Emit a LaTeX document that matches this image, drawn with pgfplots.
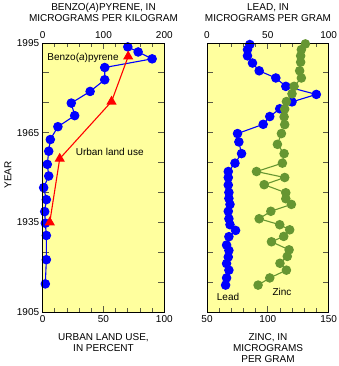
\documentclass[border=0pt]{standalone}
\usepackage{pgfplots}
\pgfplotsset{compat=1.18}
\usepackage{fontspec}
\setmainfont{Liberation Sans}
\definecolor{bgyellow}{RGB}{255,255,158}
\definecolor{zincgreen}{RGB}{102,150,50}
\definecolor{tickgray}{RGB}{90,90,70}
\pgfplotsset{
  common/.style={
    scale only axis, width=121.6pt, height=269pt,
    ymin=1905, ymax=1995,
    clip=false,
    /pgf/number format/assume math mode=true,
    tick label style={font=\fontsize{10}{12}\selectfont},
    axis line style={line width=0.9pt, black},
    major tick length=6pt, minor tick length=4pt,
    every tick/.style={tickgray, line width=0.9pt},
    tick align=inside,
  },
  yearticks/.style={
    ytick={1905,1915,1925,1935,1945,1955,1965,1975,1985,1995},
    yticklabels={1905,,,1935,,,1965,,,1995},
    ytick pos=both,
  },
}
\begin{document}
\begin{tikzpicture}[x=1pt,y=1pt]
\useasboundingbox (0,0) rectangle (338,366);
% ---------------- Left panel: benzo(a)pyrene (top axis)
\begin{axis}[common, yearticks, at={(42.7pt,54pt)}, anchor=south west,
  axis background/.style={fill=bgyellow},
  xmin=0, xmax=200, xtick={0,100,200}, minor x tick num=4,
  xtick pos=right, xticklabel pos=right,
  yticklabel pos=left,
  xticklabel style={yshift=1pt},
  ]
\addplot[blue, line width=1.1pt, mark=*, mark size=4.2pt, mark options={fill=blue, draw=blue}] table {
x y
140 1993.7
157 1992.0
180 1989.7
102 1986.8
102 1982.7
78 1978.8
47 1974.9
52.6 1970.7
25 1967.0
12.5 1962.7
9.9 1958.8
7.6 1954.4
9.9 1950.5
1.6 1946.6
6 1942.6
3.3 1938.6
4.3 1934.7
6 1930.6
6 1922.5
4.3 1914.4
};
\end{axis}
% ---------------- Left panel: urban land use (bottom axis)
\begin{axis}[common, at={(42.7pt,54pt)}, anchor=south west,
  xmin=0, xmax=100, xtick={0,50,100}, minor x tick num=4,
  xtick pos=left, xticklabel pos=left,
  ytick=\empty,
  ]
\addplot[red, line width=1.1pt, mark=triangle*, mark size=4.8pt, mark options={fill=red, draw=red}] table {
x y
70.3 1990.5
56.6 1975.4
14 1956.3
5.8 1935
};
\end{axis}
% ---------------- Right panel: lead (top axis)
\begin{axis}[common, yearticks, at={(207pt,54pt)}, anchor=south west,
  axis background/.style={fill=bgyellow},
  xmin=0, xmax=100, xtick={0,50,100}, minor x tick num=4,
  xtick pos=right, xticklabel pos=right,
  yticklabels={},
  xticklabel style={yshift=1pt},
  ]
\addplot[blue, line width=1.1pt, mark=*, mark size=4.2pt, mark options={fill=blue, draw=blue}] table {
x y
35.2 1994.5
33.3 1992.8
33.3 1990.7
37.4 1988.3
42.9 1985.7
56.6 1983.3
64.8 1980.5
89.9 1977.8
69.9 1975.3
59.8 1973.0
51.6 1970.4
46.2 1967.8
25.1 1964.7
26.2 1961.9
28.4 1958.0
23.0 1954.8
17.5 1952.0
17.5 1950.0
17.5 1947.5
18.0 1945.0
18.0 1943.0
18.9 1941.0
17.5 1938.7
18.0 1936.2
18.9 1934.2
23.5 1932.3
18.0 1930.2
16.1 1927.4
18.0 1925.6
17.5 1923.4
16.1 1921.2
18.0 1919.0
16.1 1916.4
15.3 1914.0
};
\end{axis}
% ---------------- Right panel: zinc (bottom axis)
\begin{axis}[common, at={(207pt,54pt)}, anchor=south west,
  xmin=50, xmax=150, xtick={50,100,150}, minor x tick num=4,
  xtick pos=left, xticklabel pos=left,
  ytick=\empty,
  ]
\addplot[zincgreen, line width=1.1pt, mark=*, mark size=4.2pt, mark options={fill=zincgreen, draw=zincgreen}] table {
x y
130.9 1994.7
127.6 1992.8
127.0 1990.7
127.0 1988.6
126.2 1985.7
127.6 1983.3
121.6 1980.5
119.9 1978.0
115.3 1975.4
113.9 1972.9
113.4 1970.3
113.9 1967.7
111.2 1964.7
107.9 1961.1
113.4 1958.0
112.0 1954.8
90.7 1952.0
113.9 1950.0
97.0 1947.6
114.8 1944.9
114.8 1942.9
119.4 1941.0
102.5 1938.7
92.9 1936.2
109.8 1934.2
118.0 1932.5
113.1 1930.3
103.0 1928.5
117.5 1925.8
116.0 1923.6
110.0 1921.3
115.3 1919.0
101.6 1916.4
92.0 1914.0
};
\end{axis}
% ---------------- Titles and labels
\node[align=center, font=\fontsize{10}{11.6}\selectfont] at (103.5,353.5) {BENZO(\textit{A})PYRENE, IN\\MICROGRAMS PER KILOGRAM};
\node[align=center, font=\fontsize{10}{11.6}\selectfont] at (268,353.5) {LEAD, IN\\MICROGRAMS PER GRAM};
\node[align=center, font=\fontsize{10}{11.4}\selectfont] at (103.5,23.5) {URBAN LAND USE,\\IN PERCENT};
\node[align=center, font=\fontsize{10}{11.2}\selectfont] at (268,18) {ZINC, IN\\MICROGRAMS\\PER GRAM};
\node[rotate=90, font=\fontsize{10}{12}\selectfont] at (8,191) {YEAR};
\node[font=\fontsize{10}{12}\selectfont] at (83,308) {Benzo(\textit{a})pyrene};
\node[font=\fontsize{10}{12}\selectfont] at (109.7,214.3) {Urban land use};
\node[font=\fontsize{10}{12}\selectfont] at (228,69.3) {Lead};
\node[font=\fontsize{10}{12}\selectfont] at (282,74.3) {Zinc};
\end{tikzpicture}
\end{document}
